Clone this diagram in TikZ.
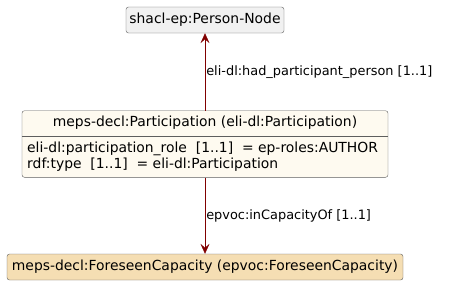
\documentclass[tikz,border=0pt]{standalone}
\usepackage{fontspec}
\setmainfont{DejaVu Sans}
\usepackage{tikz}
\usetikzlibrary{arrows.meta,positioning,calc}

\definecolor{nodegray}{HTML}{F1F1F1}
\definecolor{classcream}{HTML}{FEFAF0}
\definecolor{capwheat}{HTML}{F5DEB3}
\definecolor{edgemaroon}{HTML}{800000}
\definecolor{framegray}{HTML}{5E5E5E}

\begin{document}
\begin{tikzpicture}[
        x=1pt, y=1pt,
        every node/.style={font=\fontsize{13.9}{16}\selectfont},
        shapebox/.style={rectangle, draw=framegray, rounded corners=2.5pt, inner sep=2pt, minimum height=26pt},
        classbox/.style={shapebox, fill=classcream},
        link/.style={-{Stealth[length=10pt, width=9pt, inset=4pt]}, draw=edgemaroon, semithick},
        linklabel/.style={font=\fontsize{12.9}{15}\selectfont, anchor=west, inner sep=1pt}
        ]
        
        % Canvas the same size as the reference
        \useasboundingbox (0,0) rectangle (449,-293);
        
        % Nodes at explicit coordinates, one column
        \node[shapebox, fill=nodegray, minimum width=158pt] (person) at (205,-20) {shacl-ep:Person-Node};
        \node[classbox, minimum width=366pt, minimum height=66.6pt] (participation) at (205,-144) {};
        \node[shapebox, fill=capwheat, minimum width=396pt] (capacity) at (205,-267) {meps-decl:ForeseenCapacity (epvoc:ForeseenCapacity)};
        
        % Header and attributes of the class box
        \coordinate (split) at (0,-136);
        \draw[framegray] (participation.west |- split) -- (participation.east |- split);
        \node (partheader) at (205,-123) {meps-decl:Participation (eli-dl:Participation)};
        \node[anchor=west, align=left, inner sep=0pt, font=\fontsize{13.9}{15.5}\selectfont] (partattrs) at (27,-156.5)
            {eli-dl:participation\_role\ \ [1..1]\ \ = ep-roles:AUTHOR\\rdf:type\ \ [1..1]\ \ = eli-dl:Participation};
        
        % Connectors with their property labels
        \draw[link] (participation) -- node[linklabel, pos=0.5] {eli-dl:had\_participant\_person [1..1]} (person);
        \draw[link] (participation) -- node[linklabel, pos=0.5] {epvoc:inCapacityOf [1..1]} (capacity);
        
    \end{tikzpicture}
\end{document}
